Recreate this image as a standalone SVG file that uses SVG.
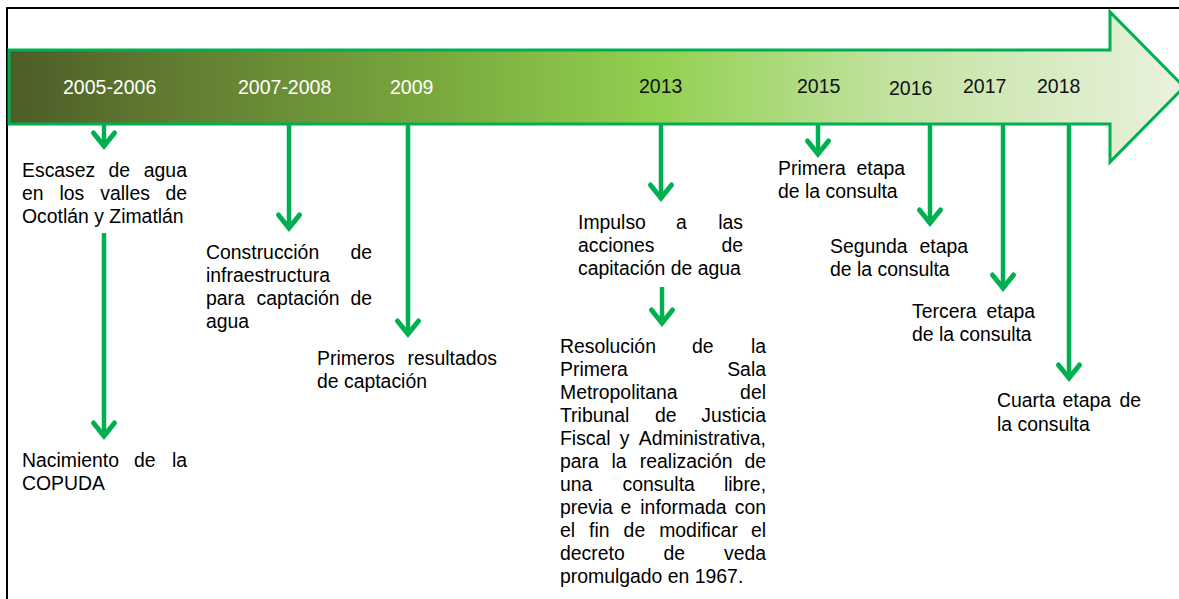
<svg xmlns="http://www.w3.org/2000/svg" width="1179" height="599" viewBox="0 0 1179 599">
<style>
.t{font-family:"Liberation Sans",Arial,sans-serif;font-size:19.4px;fill:#000}
.y{font-family:"Liberation Sans",Arial,sans-serif;font-size:19.5px;fill:#111}
.w{fill:#fff}
.c{stroke:#00B050;stroke-width:4.5;fill:none;marker-end:url(#chev)}
</style>
<defs>
<linearGradient id="bar" x1="9" y1="0" x2="1184" y2="0" gradientUnits="userSpaceOnUse">
<stop offset="0" stop-color="#4C5C27"/>
<stop offset="0.12" stop-color="#5E7830"/>
<stop offset="0.35" stop-color="#78A63D"/>
<stop offset="0.55" stop-color="#92D050"/>
<stop offset="0.75" stop-color="#C2E2A0"/>
<stop offset="1" stop-color="#EAF2DF"/>
</linearGradient>
<marker id="chev" markerUnits="userSpaceOnUse" orient="auto" refX="0" refY="0" markerWidth="30" markerHeight="30" viewBox="-20 -15 30 30" overflow="visible">
<path d="M-14,-10.5 L-1,0 L-14,10.5" fill="none" stroke="#00B050" stroke-width="5" stroke-linecap="round" stroke-linejoin="miter"/>
</marker>
</defs>
<rect width="1179" height="599" fill="#fff"/>
<path d="M7,600 V8 H1180" fill="none" stroke="#000" stroke-width="2"/>
<g id="timeline-arrow">
<path d="M9,50 H1110 V12 L1184,87 L1110,162 V124 H9 Z" fill="url(#bar)" stroke="#00B050" stroke-width="3"/>
</g>
<g id="years">
<text class="y w" x="63" y="94">2005-2006</text>
<text class="y w" x="238" y="94">2007-2008</text>
<text class="y w" x="390" y="94">2009</text>
<text class="y" x="639" y="93">2013</text>
<text class="y" x="797" y="93">2015</text>
<text class="y" x="889" y="95">2016</text>
<text class="y" x="963" y="93">2017</text>
<text class="y" x="1037" y="93">2018</text>
</g>
<g id="connectors">
<path class="c" d="M104,125 V147"/>
<path class="c" d="M289,125 V229"/>
<path class="c" d="M408,125 V335"/>
<path class="c" d="M104,233 V437"/>
<path class="c" d="M661,125 V199"/>
<path class="c" d="M662,287 V324"/>
<path class="c" d="M818,125 V155"/>
<path class="c" d="M930,125 V224"/>
<path class="c" d="M1003,125 V289"/>
<path class="c" d="M1069,125 V379"/>
</g>
<g id="node-escasez">
<text class="t" y="177"><tspan x="22">Escasez</tspan><tspan x="108.5">de</tspan><tspan x="143.8">agua</tspan></text>
<text class="t" y="200"><tspan x="22">en</tspan><tspan x="59.5">los</tspan><tspan x="100.3">valles</tspan><tspan x="165.4">de</tspan></text>
<text class="t" x="22" y="223">Ocotlán y Zimatlán</text>
</g>
<g id="node-copuda">
<text class="t" y="467"><tspan x="22">Nacimiento</tspan><tspan x="134">de</tspan><tspan x="171.9">la</tspan></text>
<text class="t" x="22" y="490">COPUDA</text>
</g>
<g id="node-construccion">
<text class="t" y="259"><tspan x="206">Construcción</tspan><tspan x="350.4">de</tspan></text>
<text class="t" x="206" y="282">infraestructura</text>
<text class="t" y="305"><tspan x="206">para</tspan><tspan x="256.6">captación</tspan><tspan x="350.4">de</tspan></text>
<text class="t" x="206" y="328">agua</text>
</g>
<g id="node-primeros-resultados">
<text class="t" y="365"><tspan x="317">Primeros</tspan><tspan x="407.5">resultados</tspan></text>
<text class="t" x="317" y="388">de captación</text>
</g>
<g id="node-impulso">
<text class="t" y="229"><tspan x="578">Impulso</tspan><tspan x="675.9">a</tspan><tspan x="718.2">las</tspan></text>
<text class="t" y="252"><tspan x="578">acciones</tspan><tspan x="721.4">de</tspan></text>
<text class="t" x="578" y="275">capitación de agua</text>
</g>
<g id="node-resolucion">
<text class="t" y="353"><tspan x="560">Resolución</tspan><tspan x="692">de</tspan><tspan x="750.9">la</tspan></text>
<text class="t" y="376"><tspan x="560">Primera</tspan><tspan x="727.2">Sala</tspan></text>
<text class="t" y="399"><tspan x="560">Metropolitana</tspan><tspan x="740.1">del</tspan></text>
<text class="t" y="422"><tspan x="560">Tribunal</tspan><tspan x="655">de</tspan><tspan x="701.3">Justicia</tspan></text>
<text class="t" y="445"><tspan x="560">Fiscal</tspan><tspan x="619.7">y</tspan><tspan x="638.8">Administrativa,</tspan></text>
<text class="t" y="468"><tspan x="560">para</tspan><tspan x="611.5">la</tspan><tspan x="639.8">realización</tspan><tspan x="744.4">de</tspan></text>
<text class="t" y="491"><tspan x="560">una</tspan><tspan x="622.6">consulta</tspan><tspan x="724">libre,</tspan></text>
<text class="t" y="514"><tspan x="560">previa</tspan><tspan x="620.5">e</tspan><tspan x="640.3">informada</tspan><tspan x="734.7">con</tspan></text>
<text class="t" y="537"><tspan x="560">el</tspan><tspan x="589.1">fin</tspan><tspan x="623.6">de</tspan><tspan x="659.2">modificar</tspan><tspan x="750.9">el</tspan></text>
<text class="t" y="560"><tspan x="560">decreto</tspan><tspan x="663.4">de</tspan><tspan x="724">veda</tspan></text>
<text class="t" x="560" y="583">promulgado en 1967.</text>
</g>
<g id="node-primera-etapa">
<text class="t" y="175"><tspan x="778">Primera</tspan><tspan x="856.5">etapa</tspan></text>
<text class="t" x="778" y="198">de la consulta</text>
</g>
<g id="node-segunda-etapa">
<text class="t" y="253"><tspan x="830">Segunda</tspan><tspan x="919.5">etapa</tspan></text>
<text class="t" x="830" y="276">de la consulta</text>
</g>
<g id="node-tercera-etapa">
<text class="t" y="318"><tspan x="912">Tercera</tspan><tspan x="986.5">etapa</tspan></text>
<text class="t" x="912" y="341">de la consulta</text>
</g>
<g id="node-cuarta-etapa">
<text class="t" y="407"><tspan x="997">Cuarta</tspan><tspan x="1062.5">etapa</tspan><tspan x="1119.5">de</tspan></text>
<text class="t" x="997" y="431">la consulta</text>
</g>
</svg>
